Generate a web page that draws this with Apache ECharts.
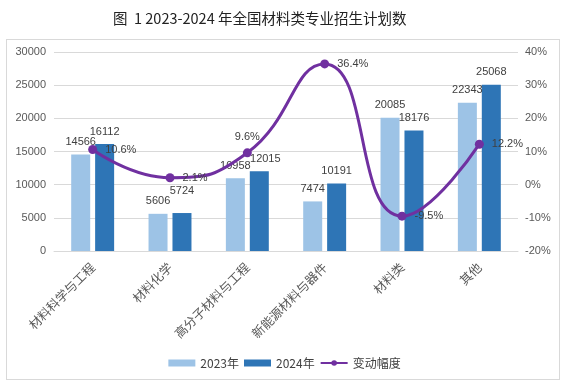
<!DOCTYPE html>
<html><head><meta charset="utf-8">
<script src="https://cdn.jsdelivr.net/npm/echarts@6/dist/echarts.min.js"></script>
<style>html,body{margin:0;padding:0;background:#fff}#c{width:569px;height:386px}
#box{position:absolute;left:6px;top:39px;width:554px;height:341px;border:1px solid #d9d9d9;box-sizing:border-box;}</style>
</head><body><div id="box"></div><div id="c" style="position:absolute;left:0;top:0"></div>
<script>
var categories = ['材料科学与工程','材料化学','高分子材料与工程','新能源材料与器件','材料类','其他'];
var values2023 = [14566, 5606, 10958, 7474, 20085, 22343];
var values2024 = [16112, 5724, 12015, 10191, 18176, 25068];
var changePct = [10.6, 2.1, 9.6, 36.4, -9.5, 12.2];

var chart = echarts.init(document.getElementById('c'));
var numFont = '"Liberation Sans", Arial, sans-serif';
var cjkFont = '"Noto Sans CJK SC", sans-serif';
var lblFont = {color:'#404040', fontSize:11, fontFamily:numFont};

// label placement tweaks (style only) to avoid overlapping labels, as in the original
var labelTweak2024 = {1:{distance:17}, 2:{offset:[6,0]}};
var linePos = {2:'top'};

var data2024 = values2024.map(function(v, i){
  return labelTweak2024[i] ? {value:v, label:Object.assign({show:true, position:'top', distance:7}, lblFont, labelTweak2024[i])} : v;
});
var dataPct = changePct.map(function(v, i){
  return linePos[i] ? {value:v, label:{position:linePos[i], distance:6}} : v;
});

chart.setOption({
  animation:false,
  title:{text:'图  1 2023-2024 年全国材料类专业招生计划数', left:108, top:6,
    textStyle:{fontSize:14.5, fontWeight:'normal', color:'#222', fontFamily:cjkFont}},
  legend:{top:352, left:'center', itemWidth:27, itemHeight:7, itemGap:5,
    textStyle:{color:'#404040', fontSize:12, fontFamily:cjkFont},
    data:[{name:'2023年', icon:'rect'},{name:'2024年', icon:'rect'},{name:'变动幅度'}]},
  grid:{left:54, right:51, top:52, bottom:135},
  xAxis:{type:'category', data:categories,
    axisLine:{lineStyle:{color:'#d9d9d9'}}, axisTick:{show:false},
    axisLabel:{rotate:45, color:'#595959', fontSize:12.5, margin:14, interval:0, fontFamily:cjkFont}},
  yAxis:[
    {type:'value', min:0, max:30000, interval:5000,
      axisLabel:{color:'#595959', fontSize:11, margin:8, fontFamily:numFont, formatter:function(v){return String(v);}},
      splitLine:{lineStyle:{color:'#d9d9d9'}}, axisLine:{show:false}, axisTick:{show:false}},
    {type:'value', min:-20, max:40, interval:10,
      axisLabel:{color:'#595959', fontSize:11, formatter:'{value}%', margin:7, fontFamily:numFont},
      splitLine:{show:false}, axisLine:{show:false}, axisTick:{show:false}}
  ],
  series:[
    {name:'2023年', type:'bar', data:values2023, barWidth:19, barGap:'26%',
      itemStyle:{color:'#9dc3e6'}, label:Object.assign({show:true, position:'top', distance:7}, lblFont)},
    {name:'2024年', type:'bar', data:data2024, barWidth:19,
      itemStyle:{color:'#2e75b6'}, label:Object.assign({show:true, position:'top', distance:7}, lblFont)},
    {name:'变动幅度', type:'line', yAxisIndex:1, data:dataPct, smooth:0.5,
      symbol:'circle', symbolSize:9,
      lineStyle:{color:'#7030a0', width:3}, itemStyle:{color:'#7030a0'},
      label:Object.assign({show:true, position:'right', distance:8, formatter:function(p){return p.value.toFixed(1)+'%';}}, lblFont)}
  ]
});
</script></body></html>
